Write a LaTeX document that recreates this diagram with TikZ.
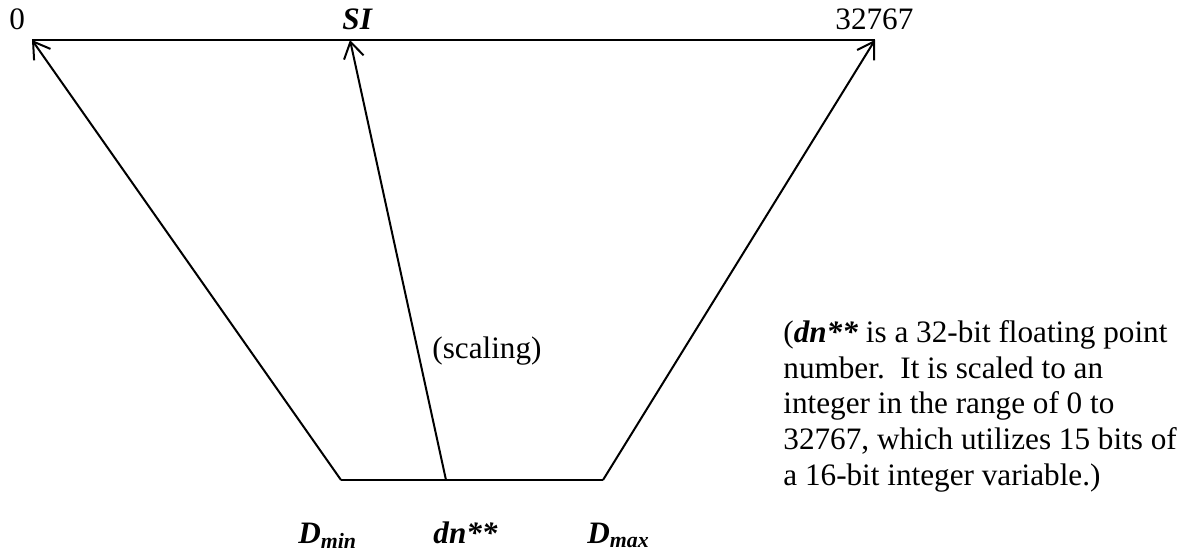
\documentclass[tikz,border=0pt]{standalone}
\usepackage{fontspec}
\setmainfont{Liberation Serif}
\usetikzlibrary{arrows.meta}

\begin{document}
\begin{tikzpicture}[
    x=0.5pt, y=-0.5pt,
    every node/.style={font=\fontsize{15.6pt}{17.8pt}\selectfont, inner sep=0pt},
    lbl/.style={anchor=base west},
    bi/.style={font=\fontsize{15.6pt}{17.8pt}\selectfont\bfseries\itshape},
    edge/.style={line width=1pt},
    arrow/.style={-{Straight Barb[length=8pt, width=10pt]}, line width=1pt}
]
    \useasboundingbox (0,0) rectangle (1195,551);

    % ends of the two scales
    \coordinate (lo) at (32,40);
    \coordinate (si) at (350,40);
    \coordinate (hi) at (875,40);
    \coordinate (dmin) at (341,480);
    \coordinate (dn) at (446,480);
    \coordinate (dmax) at (603,480);

    \node[lbl] (zero) at (9,30) {0};
    \node[lbl, bi] (silbl) at (342,30) {SI};
    \node[lbl] (top) at (835,30) {32767};
    \node[lbl] (scaling) at (432,358) {(scaling)};

    \node[lbl, bi] (dminlbl) at (298,543) {D\textsubscript{min}};
    \node[lbl, bi] (dnlbl) at (433,543) {dn**};
    \node[lbl, bi] (dmaxlbl) at (587,543) {D\textsubscript{max}};

    % base of a multi-line node sits on its last line
    \node[lbl, align=left] (note) at (783,485) {(\textbf{\textit{dn**}} is a 32-bit floating point\\
        number.\ \ It is scaled to an\\
        integer in the range of 0 to\\
        32767, which utilizes 15 bits of\\
        a 16-bit integer variable.)};

    \draw[line width=1.3pt] (lo) -- (hi);
    \draw[edge] (dmin) -- (dmax);
    \draw[arrow] (dmin) -- (lo);
    \draw[arrow] (dn) -- (si);
    \draw[arrow] (dmax) -- (hi);
\end{tikzpicture}
\end{document}
